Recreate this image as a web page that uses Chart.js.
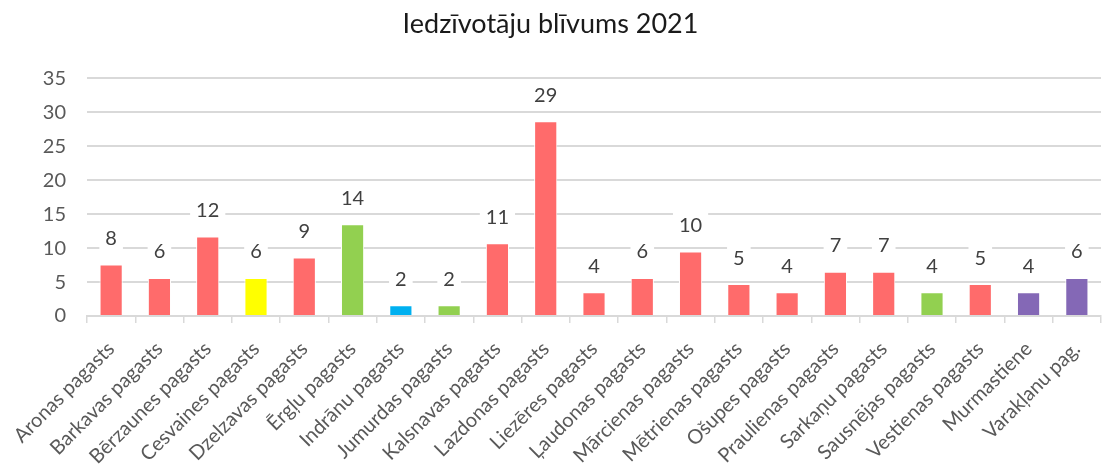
<!DOCTYPE html>
<html>
<head>
<meta charset="utf-8">
<script src="https://cdn.jsdelivr.net/npm/chart.js@4/dist/chart.umd.min.js"></script>
<style>
  html, body { margin: 0; padding: 0; background: #fff; }
  #wrap { width: 1113px; height: 472px; }
</style>
</head>
<body>
<div id="wrap"><canvas id="chart"></canvas></div>
<script>
const categories = [
  'Aronas pagasts', 'Barkavas pagasts', 'Bērzaunes pagasts', 'Cesvaines pagasts',
  'Dzelzavas pagasts', 'Ērgļu pagasts', 'Indrānu pagasts', 'Jumurdas pagasts',
  'Kalsnavas pagasts', 'Lazdonas pagasts', 'Liezēres pagasts', 'Ļaudonas pagasts',
  'Mārcienas pagasts', 'Mētrienas pagasts', 'Ošupes pagasts', 'Praulienas pagasts',
  'Sarkaņu pagasts', 'Sausnējas pagasts', 'Vestienas pagasts', 'Murmastiene',
  'Varakļanu pag.'
];
const density = [7.6, 5.6, 11.7, 5.6, 8.6, 13.5, 1.6, 1.6, 10.7, 28.7, 3.5, 5.6,
  9.5, 4.7, 3.5, 6.5, 6.5, 3.5, 4.7, 3.5, 5.6];
const yTicks = [0, 5, 10, 15, 20, 25, 30, 35];

const red = '#ff6b6b', green = '#92d050', yellow = '#ffff00', blue = '#00b0f0', purple = '#8468b6';
const barColors = [red, red, red, yellow, red, green, blue, green, red, red, red, red,
  red, red, red, red, red, green, red, purple, purple];

const FONT = 'Lato, "Open Sans", sans-serif';

// rounded value above each bar, on a white box that hides the grid
const valueLabels = {
  id: 'valueLabels',
  afterDatasetsDraw(chart) {
    const ctx = chart.ctx;
    const meta = chart.getDatasetMeta(0);
    ctx.save();
    ctx.font = '20px ' + FONT;
    ctx.textAlign = 'center';
    ctx.textBaseline = 'middle';
    meta.data.forEach((bar, i) => {
      const text = String(Math.round(density[i]));
      const y = bar.y - 27;
      const w = ctx.measureText(text).width + 12;
      ctx.fillStyle = '#fff';
      ctx.fillRect(bar.x - w / 2, y - 12, w, 24);
      ctx.fillStyle = '#404040';
      ctx.fillText(text, bar.x, y + 1);
    });
    ctx.restore();
  }
};

new Chart(document.getElementById('chart'), {
  type: 'bar',
  data: {
    labels: categories,
    datasets: [{
      data: density,
      backgroundColor: barColors,
      borderColor: '#fff',
      borderWidth: { top: 1, left: 1, right: 1, bottom: 0 },
      categoryPercentage: 1,
      barPercentage: 0.48
    }]
  },
  options: {
    responsive: true,
    maintainAspectRatio: false,
    animation: false,
    layout: { padding: { left: 0, right: 12, top: 0, bottom: 0 }, autoPadding: false },
    plugins: {
      legend: { display: false },
      tooltip: { enabled: false },
      title: {
        display: true,
        text: 'Iedzīvotāju blīvums 2021',
        color: '#1a1a1a',
        font: { family: FONT, size: 27, weight: 'normal' },
        padding: { top: 8, bottom: 38 }
      }
    },
    scales: {
      x: {
        grid: { display: true, drawOnChartArea: false, color: '#d9d9d9', lineWidth: 1.5, tickLength: 7 },
        border: { display: true, color: '#d9d9d9', width: 2 },
        ticks: {
          autoSkip: false,
          minRotation: 45,
          maxRotation: 45,
          padding: 14,
          color: '#595959',
          font: { family: FONT, size: 20 }
        },
        afterFit(scale) { scale.height = 156; }
      },
      y: {
        min: 0,
        max: 35,
        afterBuildTicks(scale) { scale.ticks = yTicks.map(v => ({ value: v })); },
        grid: { color: '#d9d9d9', lineWidth: 2, drawTicks: false },
        border: { display: false },
        ticks: {
          padding: 21,
          color: '#595959',
          font: { family: FONT, size: 20 }
        },
        afterFit(scale) { scale.width = 87; }
      }
    }
  },
  plugins: [valueLabels]
});
</script>
</body>
</html>
